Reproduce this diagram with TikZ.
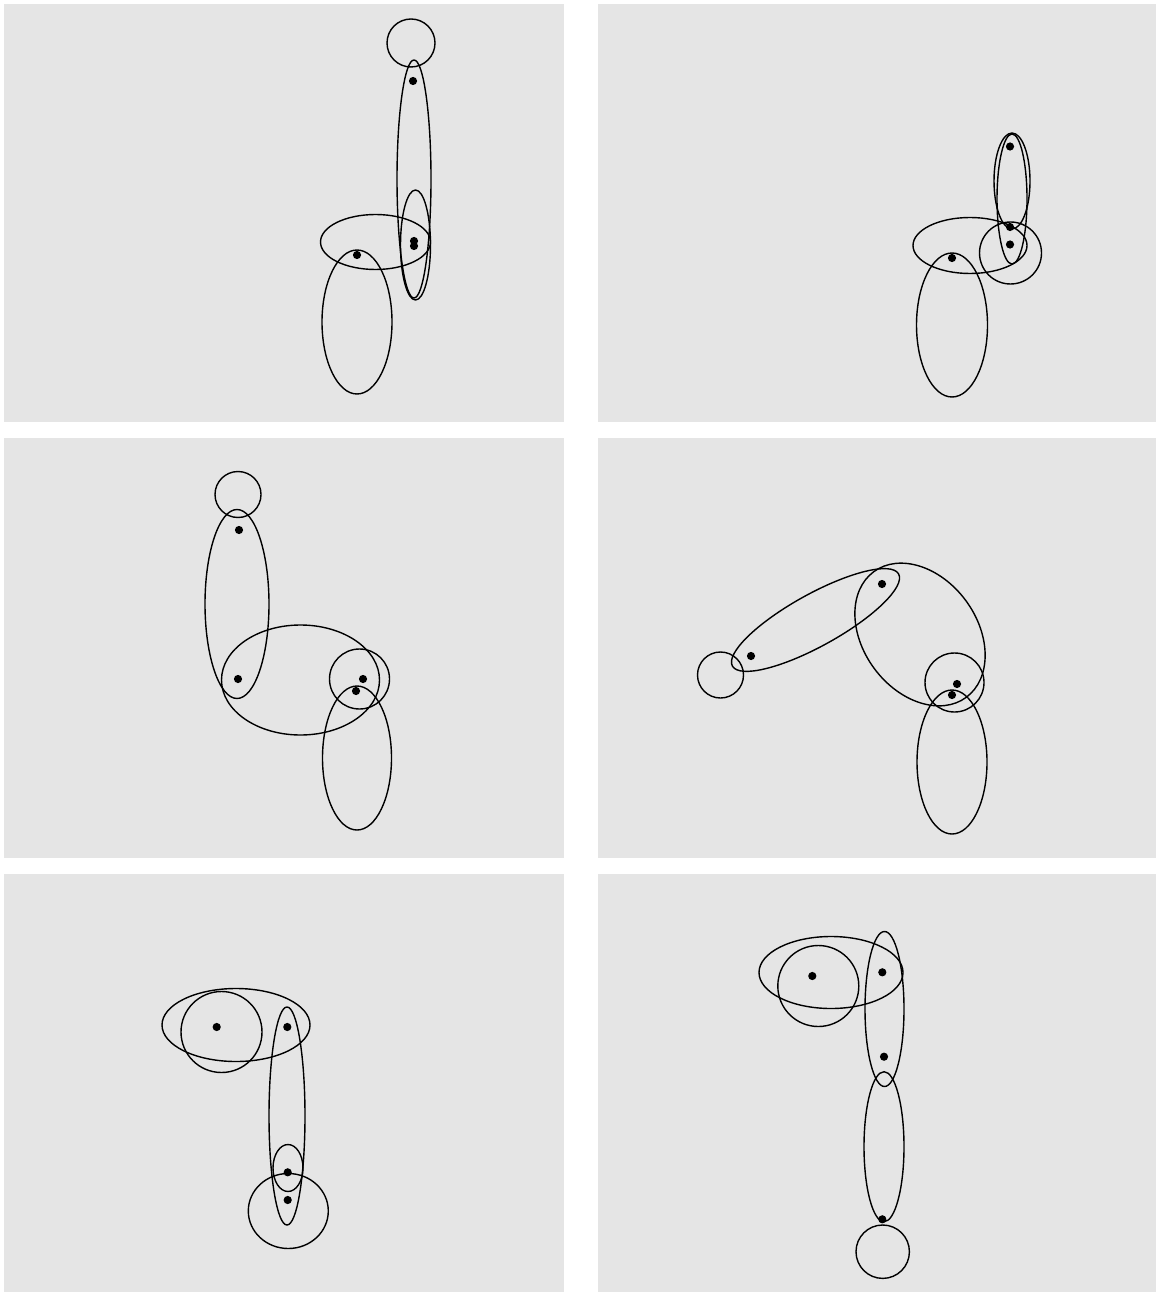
\documentclass[tikz,border=0pt]{standalone}
\definecolor{panelgray}{RGB}{229,229,229}
\newcommand{\myell}[5]{\draw[outline,rotate around={#5:(#1,#2)}] (#1,#2) ellipse [x radius=#3, y radius=#4];}
\newcommand{\mycirc}[3]{\draw[outline] (#1,#2) circle [radius=#3];}
\newcommand{\mydot}[2]{\fill[dotmark] (#1,#2) circle [radius=4.1];}
\begin{document}
\begin{tikzpicture}[x=0.5pt,y=-0.5pt,
  outline/.style={draw=black,line width=0.7pt},
  dotmark/.style={fill=black},
  panel/.style={fill=panelgray}]
\useasboundingbox (0,0) rectangle (1156,1294);
% panels
\fill[panel] (4,4) rectangle (564,422);
\fill[panel] (598,4) rectangle (1156,422);
\fill[panel] (4,438) rectangle (564,858);
\fill[panel] (598,438) rectangle (1156,858);
\fill[panel] (4,874) rectangle (564,1292);
\fill[panel] (598,874) rectangle (1156,1292);
% panel 1
\mycirc{411}{43}{24}
\myell{414}{179}{17}{119}{0}
\myell{415.5}{245}{15}{55}{0}
\myell{375.5}{242}{55}{27.5}{0}
\myell{357}{322}{35}{72}{0}
\mydot{413}{81}
\mydot{414}{241}
\mydot{414}{246}
\mydot{357}{255}
% panel 2
\myell{1012}{181}{18}{48}{0}
\myell{1012}{199}{15}{65}{0}
\myell{970}{245.5}{57}{28}{0}
\mycirc{1010.5}{253}{31}
\myell{952}{325}{35.5}{72}{0}
\mydot{1010}{146.5}
\mydot{1010}{227}
\mydot{1010}{244.5}
\mydot{952}{258}
% panel 3
\mycirc{238}{494.5}{23}
\myell{237}{604}{32}{94.5}{0}
\myell{300.5}{680}{79}{55}{0}
\mycirc{359.5}{679}{30}
\myell{357}{758}{34.5}{72}{0}
\mydot{239}{530}
\mydot{238}{679}
\mydot{363}{679}
\mydot{356}{691}
% panel 4
\mycirc{720.5}{675}{23}
\myell{815.5}{620}{95}{26}{29}
\myell{920}{634.5}{78}{57}{-53.7}
\mycirc{954.5}{682.5}{29.5}
\myell{952}{762}{35}{72}{0}
\mydot{751}{656}
\mydot{882}{584}
\mydot{957}{684}
\mydot{952}{695}
% panel 5
\myell{236}{1025}{74}{36.5}{0}
\mycirc{221.5}{1032}{40.5}
\myell{287}{1116}{18}{109}{0}
\myell{288}{1168}{15}{23.5}{0}
\myell{288.3}{1211}{40}{37.5}{0}
\mydot{216.7}{1027}
\mydot{287.3}{1027}
\mydot{287.7}{1172.3}
\mydot{287.7}{1200}
% panel 6
\myell{831}{972.5}{72}{36}{0}
\mycirc{818.3}{986}{40.5}
\myell{884.5}{1009}{19.5}{77.5}{0}
\myell{884}{1146.7}{20}{75}{0}
\mycirc{882.7}{1251.7}{26.7}
\mydot{812.3}{976}
\mydot{882.3}{972.3}
\mydot{884}{1056.7}
\mydot{882.3}{1219.3}
\end{tikzpicture}
\end{document}
